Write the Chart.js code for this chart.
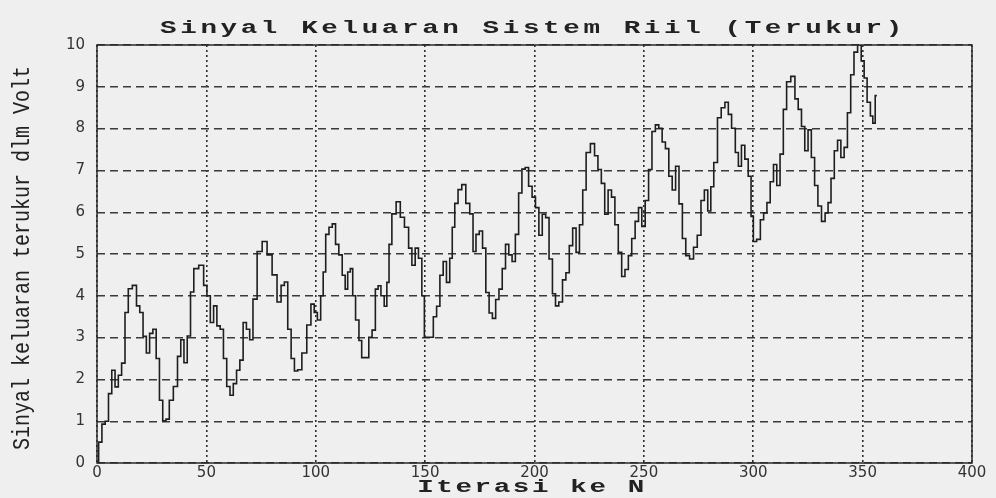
<!DOCTYPE html>
<html>
<head>
<meta charset="utf-8">
<script src="https://cdn.jsdelivr.net/npm/chart.js@4.4.1/dist/chart.umd.min.js"></script>
<style>
  html, body { margin: 0; padding: 0; background: #efefef; }
  #wrap { width: 996px; height: 498px; }
</style>
</head>
<body>
<div id="wrap"><canvas id="sinyal-canvas" width="996" height="498"></canvas></div>
<script>
// iterasi (x) dan tegangan terukur (y)
var iterasi = [0, 1.5, 3, 4.5, 6, 7.5, 9, 10.5, 12, 13.6, 15, 17.3, 18.8, 20.3, 21.8, 23.3, 24.8, 26.3, 27.8, 29.3,
  30.8, 32.3, 33.8, 36, 37.6, 39, 40.5, 42, 43.5, 45, 48, 49.5, 51, 52.6, 54, 55.6, 57, 58.6, 60, 61.6,
  63, 64.6, 66, 67.6, 69, 70.6, 72, 74.4, 76.6, 78.9, 81.2, 83.4, 84.9, 86.4, 88, 89.5, 91, 92.5, 94.8, 97,
  98.6, 100, 101.5, 103, 103.8, 105.3, 106.8, 108.3, 109.8, 111.3, 112.9, 114, 115.2, 116.4, 117.4, 119, 120.5, 121.5, 123.5, 125,
  126.5, 128, 129, 130.6, 132, 133, 134, 135.6, 137.9, 139.4, 141.7, 143.2, 144.7, 146.2, 147.7, 149.3, 150, 153, 154.5, 156,
  157.5, 159, 160.5, 162, 162.8, 164.3, 165.8, 167.7, 169.5, 171.3, 172.5, 174, 175.5, 177, 178.5, 180, 181.5, 183, 184.5, 186,
  187.5, 189, 190.5, 192, 193.5, 195, 196.5, 198.1, 199.7, 201.2, 202.8, 204.3, 205.9, 207.4, 209, 210.2, 212, 213.6, 215.1, 216.7,
  218.2, 219.8, 221.3, 222.8, 224.4, 226.7, 228.2, 229.8, 231.3, 232.9, 234.4, 236, 237.5, 239.1, 240.6, 242.1, 243.7, 245.2, 246.8, 248.3,
  249.8, 251.4, 252.9, 254.5, 256, 257.6, 259.1, 260.6, 262.2, 263.7, 265.3, 266.8, 268.4, 269.9, 271.9, 273.5, 275.3, 276.9, 278.4, 280,
  281.2, 282.7, 284.6, 286.1, 288, 289.2, 291, 292.6, 293.8, 295.4, 296.9, 298.5, 299.5, 300.6, 302.5, 304, 305.5, 307, 308.5, 310,
  311.5, 313, 314.5, 316, 318.3, 319.8, 321.3, 322.8, 324.3, 325.8, 327.3, 328.8, 330.3, 332.1, 333.6, 334.8, 336.3, 337.8, 339.3, 340.8,
  342.3, 343.8, 345.3, 346.8, 348.6, 350.1, 351.3, 352.8, 354.3, 355, 356.5];

var tegangan = [0, 0.5, 0.93, 1.0, 1.66, 2.22, 1.82, 2.1, 2.39, 3.6, 4.17, 4.25, 3.76, 3.6, 3.03, 2.63, 3.1, 3.2, 2.5, 1.5,
  1.01, 1.05, 1.5, 1.83, 2.55, 2.95, 2.4, 3.04, 4.09, 4.65, 4.73, 4.25, 4.0, 3.36, 3.76, 3.28, 3.2, 2.5, 1.83, 1.62,
  1.9, 2.22, 2.46, 3.36, 3.2, 2.95, 3.92, 5.06, 5.3, 4.98, 4.5, 3.85, 4.25, 4.33, 3.2, 2.5, 2.2, 2.23, 2.63, 3.3,
  3.8, 3.6, 3.42, 4.0, 4.57, 5.47, 5.64, 5.72, 5.23, 4.98, 4.49, 4.16, 4.57, 4.65, 4.0, 3.42, 2.93, 2.52, 2.52, 3.01,
  3.18, 4.16, 4.24, 4.0, 3.75, 4.32, 5.23, 5.96, 6.25, 5.88, 5.64, 5.14, 4.73, 5.14, 4.9, 4.0, 3.01, 3.01, 3.5, 3.75,
  4.49, 4.82, 4.32, 4.9, 5.64, 6.21, 6.54, 6.66, 6.21, 5.96, 5.06, 5.47, 5.55, 5.14, 4.08, 3.59, 3.46, 3.91, 4.16, 4.65,
  5.23, 4.98, 4.82, 5.47, 6.46, 7.03, 7.07, 6.62, 6.36, 6.11, 5.45, 5.95, 5.87, 4.88, 4.05, 3.76, 3.85, 4.38, 4.55, 5.2,
  5.62, 5.04, 5.7, 6.53, 7.43, 7.64, 7.35, 7.02, 6.69, 5.95, 6.53, 6.36, 5.7, 5.04, 4.46, 4.63, 4.96, 5.37, 5.78, 6.11,
  5.66, 6.28, 7.02, 7.93, 8.09, 8.01, 7.68, 7.52, 6.86, 6.53, 7.1, 6.2, 5.37, 4.96, 4.88, 5.16, 5.45, 6.28, 6.53, 6.03,
  6.61, 7.19, 8.26, 8.5, 8.63, 8.34, 8.01, 7.43, 7.1, 7.6, 7.27, 6.86, 5.9, 5.3, 5.35, 5.82, 5.98, 6.23, 6.73, 7.14,
  6.64, 7.39, 8.46, 9.12, 9.25, 8.71, 8.46, 8.05, 7.47, 7.97, 7.31, 6.64, 6.15, 5.78, 5.98, 6.23, 6.81, 7.47, 7.72, 7.31,
  7.55, 8.38, 9.29, 9.83, 10.0, 9.62, 9.21, 8.63, 8.3, 8.13, 8.79];

var xTicks = [0, 50, 100, 150, 200, 250, 300, 350, 400];
var yTicks = [0, 1, 2, 3, 4, 5, 6, 7, 8, 9, 10];

var judul = 'Sinyal Keluaran Sistem Riil (Terukur)';
var judulX = 'Iterasi ke N';
var judulY = 'Sinyal keluaran terukur dlm Volt';

var titik = iterasi.map(function (x, i) {
    return { x: x, y: tegangan[i] };
});

var tickFont = { family: "'DejaVu Sans', Verdana, sans-serif", size: 15 };
var monoFont = "'Liberation Mono', 'DejaVu Sans Mono', monospace";

// tulisan Courier melebar seperti hasil cetak aslinya
function tulisLebar(ctx, teks, cx, cy, font, spasi, lebar) {
    ctx.save();
    ctx.font = font;
    ctx.letterSpacing = spasi + 'px';
    ctx.textAlign = 'center';
    ctx.translate(cx, cy);
    ctx.scale(lebar, 1);
    ctx.fillText(teks, 0, 0);
    ctx.restore();
}

var bingkai = {
    id: 'bingkai',
    afterDraw: function (chart) {
        var ctx = chart.ctx, a = chart.chartArea;
        ctx.save();
        ctx.strokeStyle = '#2a2a2a';
        ctx.lineWidth = 1.5;
        ctx.strokeRect(a.left, a.top, a.right - a.left, a.bottom - a.top);

        ctx.fillStyle = '#222';
        ctx.textBaseline = 'alphabetic';
        tulisLebar(ctx, judul, 533, 33, 'bold 19px ' + monoFont, 2.5, 1.45);
        tulisLebar(ctx, judulX, 532, 492, 'bold 19px ' + monoFont, 1.8, 1.45);

        ctx.font = '20px ' + monoFont;
        ctx.textAlign = 'center';
        ctx.translate(29, 258);
        ctx.rotate(-Math.PI / 2);
        ctx.scale(1, 1.15);
        ctx.fillText(judulY, 0, 0);
        ctx.restore();
    }
};

new Chart(document.getElementById('sinyal-canvas').getContext('2d'), {
    type: 'line',
    data: {
        datasets: [{
            data: titik,
            borderColor: '#1e1e1e',
            borderWidth: 1.6,
            pointRadius: 0,
            stepped: 'middle',
            fill: false
        }]
    },
    options: {
        responsive: false,
        animation: false,
        layout: { padding: { top: 45, right: 24, left: 0, bottom: 0 } },
        plugins: {
            legend: { display: false },
            title: { display: false },
            tooltip: { enabled: false }
        },
        scales: {
            x: {
                type: 'linear',
                min: 0,
                max: 400,
                afterBuildTicks: function (s) {
                    s.ticks = xTicks.map(function (v) { return { value: v }; });
                },
                afterFit: function (s) { s.height = 35; },
                grid: { color: '#2e2e2e', lineWidth: 1.6, drawTicks: false },
                border: { display: false, dash: [2, 3] },
                ticks: { color: '#333', font: tickFont, padding: 1, maxRotation: 0 }
            },
            y: {
                min: 0,
                max: 10,
                afterBuildTicks: function (s) {
                    s.ticks = yTicks.map(function (v) { return { value: v }; });
                },
                afterFit: function (s) { s.width = 97; },
                grid: { color: '#3a3a3a', lineWidth: 1.4, drawTicks: false },
                border: { display: false, dash: [8, 5] },
                ticks: { color: '#333', font: tickFont, padding: 12 }
            }
        }
    },
    plugins: [bingkai]
});
</script>
</body>
</html>
